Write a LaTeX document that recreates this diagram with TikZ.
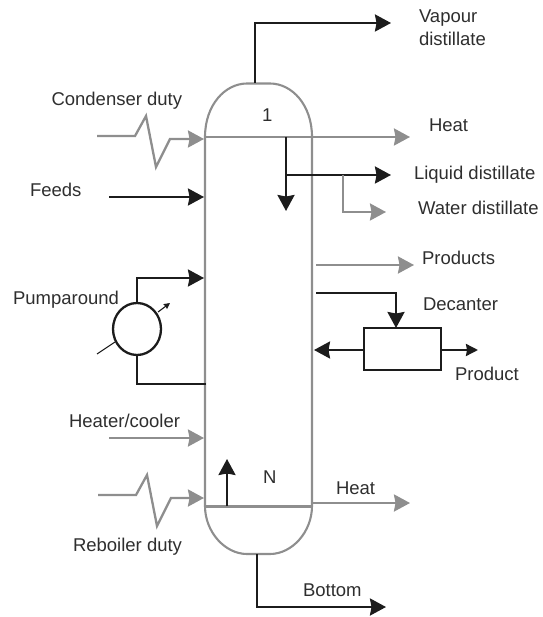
\documentclass[tikz,border=0pt]{standalone}
\usepackage{fontspec}
\setmainfont{Liberation Sans}
\usetikzlibrary{arrows.meta,calc,shapes.geometric}
\definecolor{pipegray}{HTML}{8E8E8E}
\definecolor{pipeblack}{HTML}{1C1C1C}
\definecolor{labeltext}{HTML}{2E2E2E}
\tikzset{
  lbl/.style={anchor=base west,inner sep=0pt,outer sep=0pt,text=labeltext,font=\fontsize{18.5}{23}\selectfont,align=left},
  vessel/.style={draw=pipegray,line width=2.1pt},
  gflow/.style={draw=pipegray,line width=2.3pt,-{Stealth[length=16pt,width=17pt,inset=1.5pt]}},
  kflow/.style={draw=pipeblack,line width=2.3pt,-{Stealth[length=16pt,width=17pt,inset=1.5pt]}},
  kline/.style={draw=pipeblack,line width=2.3pt},
  smallk/.style={draw=pipeblack,line width=2.3pt,-{Stealth[length=12pt,width=12pt,inset=1pt]}},
  thin arrow/.style={draw=pipeblack,line width=1.1pt,-{Stealth[length=6pt,width=6pt,inset=.5pt]}},
  thin seg/.style={draw=pipeblack,line width=1.1pt},
  boxunit/.style={draw=pipeblack,line width=2.3pt,minimum width=77pt,minimum height=42pt,inner sep=0pt,outer sep=0pt,fill=white},
  hx/.style={draw=pipeblack,line width=2.3pt,ellipse,minimum width=48pt,minimum height=52pt,inner sep=0pt,outer sep=0pt,fill=white},
}
\begin{document}
\begin{tikzpicture}[x=1pt,y=-1pt]
\useasboundingbox (0,0) rectangle (542,617);
% column shell
\draw[vessel] (205,137) .. controls (205,105) and (225,83.5) .. (247,83.5) -- (270,83.5)
  .. controls (292,83.5) and (312,105) .. (312,137) -- (312,506)
  .. controls (312,532) and (292,554) .. (270,554) -- (247,554)
  .. controls (225,554) and (205,532) .. (205,506) -- cycle;
\draw[vessel] (205,137) -- (312,137);
\draw[vessel] (205,506.5) -- (312,506.5);
% coordinates
\coordinate (vapA) at (255,83);
\coordinate (vapB) at (255,23);
\coordinate (vapT) at (391,23);
\coordinate (condA) at (97,136);
\coordinate (condB) at (135,136);
\coordinate (condC) at (146,116);
\coordinate (condD) at (156,167);
\coordinate (condE) at (170,139);
\coordinate (condT) at (204,139);
\coordinate (heatA) at (312,137);
\coordinate (heatT) at (410,137);
\coordinate (refA) at (286,137);
\coordinate (refT) at (286,211);
\coordinate (liqA) at (286,175);
\coordinate (liqT) at (391,175);
\coordinate (watA) at (343,175);
\coordinate (watB) at (343,212);
\coordinate (watT) at (386,212);
\coordinate (prodA) at (316,265);
\coordinate (prodT) at (414,265);
\coordinate (decA) at (316,293);
\coordinate (decB) at (396,293);
\coordinate (feedA) at (109,197);
\coordinate (feedT) at (204,197);
\coordinate (pumpT) at (204,278);
\coordinate (pumpB) at (137,278);
\coordinate (pumpC) at (137,384);
\coordinate (pumpD) at (206,384);
\coordinate (htrA) at (109,438);
\coordinate (htrT) at (204,438);
\coordinate (rebA) at (98,495);
\coordinate (rebB) at (136,495);
\coordinate (rebC) at (147,475);
\coordinate (rebD) at (157,526);
\coordinate (rebE) at (171,498);
\coordinate (rebT) at (204,498);
\coordinate (nA) at (227,506);
\coordinate (nT) at (227,459);
\coordinate (hbA) at (312,503);
\coordinate (hbT) at (410,503);
\coordinate (botA) at (257,554);
\coordinate (botB) at (257,607);
\coordinate (botT) at (386,607);
\coordinate (leftT) at (314,350);
\coordinate (pdT) at (478,350);
\coordinate (diagA) at (97,354);
\coordinate (diagB) at (115,342);
\coordinate (diagC) at (158,312);
\coordinate (diagT) at (170,303);
% equipment
\node[hx] (exch) at (137,329) {};
\node[boxunit] (decanter) at (402.5,349) {};
\draw[thin seg] (diagA) -- (diagB);
\draw[thin arrow] (diagC) -- (diagT);
% flows
\draw[kflow] (vapA) -- (vapB) -- (vapT);
\draw[gflow] (condA) -- (condB) -- (condC) -- (condD) -- (condE) -- (condT);
\draw[gflow] (heatA) -- (heatT);
\draw[kflow] (refA) -- (refT);
\draw[kflow] (liqA) -- (liqT);
\draw[gflow] (watA) -- (watB) -- (watT);
\draw[gflow] (prodA) -- (prodT);
\draw[kflow] (decA) -- (decB) -- (decB |- decanter.north);
\draw[kflow] (feedA) -- (feedT);
\draw[kflow] (exch.north) -- (pumpB) -- (pumpT);
\draw[kline] (exch.south) -- (pumpC) -- (pumpD);
\draw[gflow] (htrA) -- (htrT);
\draw[gflow] (rebA) -- (rebB) -- (rebC) -- (rebD) -- (rebE) -- (rebT);
\draw[kflow] (nA) -- (nT);
\draw[gflow] (hbA) -- (hbT);
\draw[kflow] (botA) -- (botB) -- (botT);
\draw[kflow] (decanter.west |- leftT) -- (leftT);
\draw[smallk] (decanter.east |- pdT) -- (pdT);
% labels
\node[lbl] (lvap) at (419,46) {Vapour\\distillate};
\node[lbl] (lcond) at (51.5,106) {Condenser duty};
\node[lbl] (lone) at (262,122) {1};
\node[lbl] (lheat) at (429,132) {Heat};
\node[lbl] (lliq) at (414,180) {Liquid distillate};
\node[lbl] (lwat) at (418,215) {Water distillate};
\node[lbl] (lfeed) at (30,197) {Feeds};
\node[lbl] (lprod) at (422,264) {Products};
\node[lbl] (ldec) at (423,310) {Decanter};
\node[lbl] (lpump) at (13,304) {Pumparound};
\node[lbl] (lpd) at (455,380) {Product};
\node[lbl] (lhtr) at (69,427) {Heater/cooler};
\node[lbl] (ln) at (263,483) {N};
\node[lbl] (lhb) at (336,494) {Heat};
\node[lbl] (lreb) at (73,551) {Reboiler duty};
\node[lbl] (lbot) at (303,596) {Bottom};
\end{tikzpicture}
\end{document}
